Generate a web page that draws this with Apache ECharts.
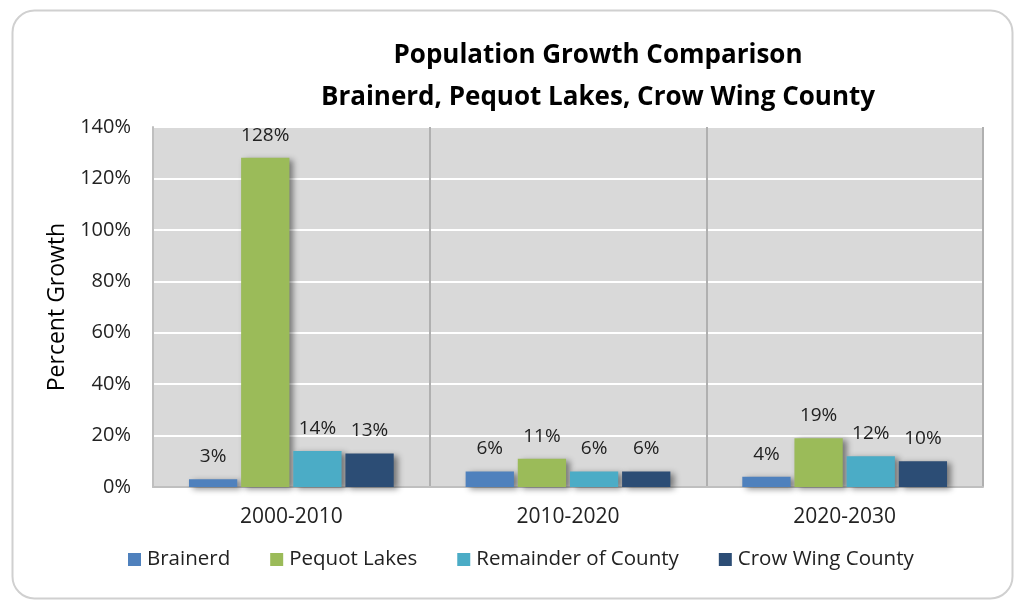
<!DOCTYPE html>
<html><head><meta charset="utf-8">
<script src="https://cdn.jsdelivr.net/npm/echarts@6/dist/echarts.min.js"></script>
<style>html,body{margin:0;padding:0;background:#fff;}#c{width:1015px;height:601px;}</style>
</head><body><div id="c"></div>
<script>
const categories = ['2000-2010', '2010-2020', '2020-2030'];
const brainerd = [3, 6, 4];
const pequotLakes = [128, 11, 19];
const remainder = [14, 6, 12];
const crowWing = [13, 6, 10];
const seriesNames = ['Brainerd', 'Pequot Lakes', 'Remainder of County', 'Crow Wing County'];
const colors = ['#4f81bd', '#9bbb59', '#4bacc6', '#2c4d75'];
const titleLines = ['Population Growth Comparison', 'Brainerd, Pequot Lakes, Crow Wing County'];

const FONT = 'Open Sans';
const chart = echarts.init(document.getElementById('c'));
const values = [brainerd, pequotLakes, remainder, crowWing];
chart.setOption({
  animation: false,
  textStyle: { fontFamily: FONT },
  graphic: [{
    type: 'rect', left: 10, top: 8,
    shape: { width: 1000, height: 588, r: 22 },
    style: { fill: 'none', stroke: '#d0d0d0', lineWidth: 2 }
  }],
  title: {
    text: titleLines.join('\n'),
    left: 593, top: 30, textAlign: 'center',
    textStyle: { fontFamily: FONT, fontSize: 26, fontWeight: 'bold', color: '#000', lineHeight: 42 }
  },
  legend: {
    bottom: 26, left: 123, itemWidth: 13, itemHeight: 13, itemGap: 40,
    icon: 'rect',
    textStyle: { fontFamily: FONT, fontSize: 20.5, color: '#222', padding: [0, 0, 0, 1] },
    data: seriesNames
  },
  grid: {
    left: 153, right: 32, top: 127, bottom: 114,
    show: true, backgroundColor: '#d9d9d9', borderWidth: 0
  },
  xAxis: {
    type: 'category', data: categories,
    axisLine: { show: true, lineStyle: { color: '#bfbfbf', width: 2 } },
    axisTick: { show: false },
    splitLine: { show: true, lineStyle: { color: '#b0b0b0', width: 2 } },
    axisLabel: { fontFamily: FONT, fontSize: 21, color: '#222', margin: 20 }
  },
  yAxis: {
    type: 'value', min: 0, max: 140, interval: 20,
    name: 'Percent Growth', nameLocation: 'middle', nameGap: 84, nameRotate: 90,
    nameTextStyle: { fontFamily: FONT, fontSize: 23, color: '#000' },
    axisLine: { show: true, lineStyle: { color: '#bfbfbf', width: 2 } },
    axisTick: { show: false },
    splitLine: { show: true, lineStyle: { color: '#ffffff', width: 2 } },
    axisLabel: { fontFamily: FONT, fontSize: 20, color: '#222', margin: 22, formatter: '{value}%' }
  },
  series: values.map((d, i) => ({
    name: seriesNames[i], type: 'bar', data: d,
    barGap: '8%', barCategoryGap: '26%',
    itemStyle: {
      color: colors[i],
      shadowColor: 'rgba(0,0,0,0.45)', shadowBlur: 6, shadowOffsetX: 4, shadowOffsetY: 2
    },
    label: {
      show: true, position: 'top', distance: 13, formatter: '{c}%',
      fontFamily: FONT, fontSize: 19, color: '#222'
    }
  }))
});
</script></body></html>
